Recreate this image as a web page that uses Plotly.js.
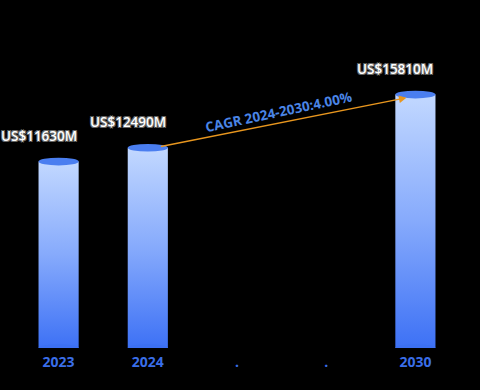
<!DOCTYPE html>
<html><head><meta charset="utf-8">
<script src="https://cdn.plot.ly/plotly-3.0.1.min.js"></script>
<style>html,body{margin:0;padding:0;background:#000;}#c{width:480px;height:390px;}</style>
</head><body><div id="c"></div>
<script>
const tickLabels = ["2023", "2024", ".", ".", "2030"];
const values = [11630, 12490, null, null, 15810];
const valueLabels = ["US$11630M", "US$12490M", "", "", "US$15810M"];
const cagrText = "CAGR 2024-2030:4.00%";
const cagrFrom = 1, cagrTo = 4;

const xs = tickLabels.map((_, i) => i);
const barW = 0.45;
const capH = 240;

const shapes = [];
const annotations = [];
values.forEach((v, i) => {
  if (v == null) return;
  shapes.push({type:'circle', xref:'x', yref:'y', x0:i-barW/2, x1:i+barW/2, y0:-capH, y1:capH,
    fillcolor:'#3c70f2', line:{width:0}, layer:'above'});
  shapes.push({type:'circle', xref:'x', yref:'y', x0:i-barW/2, x1:i+barW/2, y0:v-capH, y1:v+capH,
    fillcolor:'#4a7ef0', line:{width:0}, layer:'above'});
  annotations.push({x:i-barW/2, y:v, xref:'x', yref:'y', text:valueLabels[i], showarrow:false,
    yshift:26, font:{family:'Open Sans, DejaVu Sans, sans-serif', size:13.5, color:'#ffffff', weight:600,
    shadow:'-1px -1px 0 #666, 1px -1px 0 #666, -1px 1px 0 #666, 1px 1px 0 #666'}});
});
annotations.push({x:cagrTo-0.1, y:values[cagrTo]-200, ax:cagrFrom+0.13, ay:values[cagrFrom]+60,
  xref:'x', yref:'y', axref:'x', ayref:'y', text:'', showarrow:true, arrowhead:2, arrowsize:1,
  arrowwidth:1.5, arrowcolor:'#e8961e'});
annotations.push({x:2.46, y:(values[cagrFrom]+values[cagrTo])/2+560, xref:'x', yref:'y', text:cagrText,
  showarrow:false, textangle:-12, font:{family:'Open Sans, DejaVu Sans, sans-serif', size:13.5, color:'#4a85e6', weight:700}});

const data = [{type:'bar', x:xs, y:values, width:barW, marker:{color:'#7fa6fa', line:{width:0}},
  hoverinfo:'none'}];

const layout = {
  width:480, height:390, paper_bgcolor:'#000', plot_bgcolor:'#000',
  margin:{l:14, r:20, t:20, b:42},
  showlegend:false,
  xaxis:{type:'linear', range:[-0.5, 4.5], tickvals:xs, ticktext:tickLabels, showgrid:false, zeroline:false,
    showline:false, ticks:'', ticklabelstandoff:4,
    tickfont:{family:'Open Sans, DejaVu Sans, sans-serif', size:14, color:'#3a6ee8', weight:700}},
  yaxis:{range:[0, 20460], visible:false, showgrid:false, zeroline:false},
  shapes:shapes, annotations:annotations
};

Plotly.newPlot('c', data, layout, {staticPlot:true}).then(() => {
  const svg = document.querySelector('#c .main-svg');
  const ns = 'http://www.w3.org/2000/svg';
  let defs = svg.querySelector('defs');
  if (!defs) { defs = document.createElementNS(ns, 'defs'); svg.insertBefore(defs, svg.firstChild); }
  const g = document.createElementNS(ns, 'linearGradient');
  g.setAttribute('id', 'barGrad'); g.setAttribute('x1', '0'); g.setAttribute('y1', '0');
  g.setAttribute('x2', '0'); g.setAttribute('y2', '1');
  [['0', '#c2d8ff'], ['0.5', '#86aafc'], ['1', '#3d71f5']].forEach(([o, c]) => {
    const s = document.createElementNS(ns, 'stop'); s.setAttribute('offset', o); s.setAttribute('stop-color', c); g.appendChild(s);
  });
  defs.appendChild(g);
  document.querySelectorAll('#c .bars .point path').forEach(p => { p.style.fill = 'url(#barGrad)'; });
});
</script></body></html>
